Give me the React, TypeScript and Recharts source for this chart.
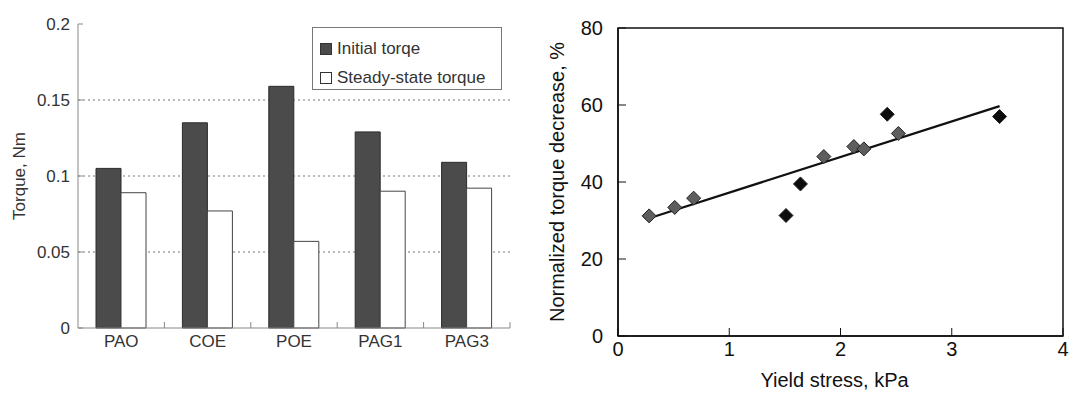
import {
  Bar,
  BarChart,
  CartesianGrid,
  Legend,
  ReferenceArea,
  Scatter,
  ScatterChart,
  XAxis,
  YAxis,
} from "recharts";

// left panel: torque per lubricant
const lubricants = ["PAO", "COE", "POE", "PAG1", "PAG3"];
const initialTorque = [0.105, 0.135, 0.159, 0.129, 0.109];
const steadyTorque = [0.089, 0.077, 0.057, 0.09, 0.092];
const torqueTicks = [0, 0.05, 0.1, 0.15, 0.2];
const torqueGrid = [0.05, 0.1, 0.15];

// right panel: normalized torque decrease vs yield stress
const stressGray = [0.28, 0.51, 0.68, 1.85, 2.12, 2.21, 2.52];
const decreaseGray = [31.2, 33.4, 35.8, 46.6, 49.2, 48.6, 52.6];
const stressBlack = [1.51, 1.64, 2.42, 3.43];
const decreaseBlack = [31.3, 39.5, 57.6, 57.0];
const fitStress = [0.28, 3.43];
const fitDecrease = [30.6, 59.7];
const stressTicks = [0, 1, 2, 3, 4];
const decreaseTicks = [0, 20, 40, 60, 80];

const barData = lubricants.map((name, i) => ({
  name,
  initial: initialTorque[i],
  steady: steadyTorque[i],
}));

const toPoints = (xs: number[], ys: number[]) =>
  xs.map((x, i) => ({ x, y: ys[i] }));

const grayPoints = toPoints(stressGray, decreaseGray);
const blackPoints = toPoints(stressBlack, decreaseBlack);
const fitPoints = toPoints(fitStress, fitDecrease);

const FONT = "'Liberation Sans', Arial, Helvetica, sans-serif";
const LEFT_FS = 17;

const LEFT_W = 540;
const LEFT_H = 401;
const LEFT_MARGIN = { top: 24, right: 30, bottom: 43, left: 0 };
const LEFT_YAXIS_W = 78;
const LEFT_PLOT_W = LEFT_W - LEFT_MARGIN.left - LEFT_MARGIN.right - LEFT_YAXIS_W;
const BAND = LEFT_PLOT_W / lubricants.length;

function CategoryTick(props: any) {
  const { x, y, payload, index } = props;
  const axisY = y - 7;
  return (
    <g>
      {index > 0 && (
        <line x1={x - BAND / 2} x2={x - BAND / 2} y1={axisY} y2={axisY - 6} stroke="#888" />
      )}
      {index === lubricants.length - 1 && (
        <line x1={x + BAND / 2} x2={x + BAND / 2} y1={axisY} y2={axisY - 6} stroke="#888" />
      )}
      <text x={x} y={y} dy="0.71em" textAnchor="middle" fill="#333" fontSize={LEFT_FS} fontFamily={FONT}>
        {payload.value}
      </text>
    </g>
  );
}

function TorqueLegend(props: any) {
  const { payload = [] } = props;
  return (
    <div
      style={{
        border: "1.5px solid #777",
        width: 190,
        height: 63,
        boxSizing: "border-box",
        padding: "6px 0 0 7px",
        fontFamily: FONT,
        fontSize: LEFT_FS,
        color: "#333",
        background: "#fff",
      }}
    >
      {payload.map((entry: any) => (
        <div key={entry.value} style={{ display: "flex", alignItems: "center", height: 29 }}>
          <span
            style={{
              display: "inline-block",
              width: 12,
              height: 12,
              boxSizing: "border-box",
              background: entry.color,
              border: "1px solid #333",
              marginRight: 5,
            }}
          />
          {entry.value}
        </div>
      ))}
    </div>
  );
}

function TorqueBars() {
  return (
    <BarChart width={LEFT_W} height={LEFT_H} data={barData} margin={LEFT_MARGIN} barGap={0}>
      <CartesianGrid
        vertical={false}
        horizontalValues={torqueGrid}
        strokeDasharray="2 3"
        stroke="#777"
      />
      <XAxis
        dataKey="name"
        height={30}
        tickLine={false}
        tickSize={0}
        tickMargin={7}
        axisLine={{ stroke: "#888" }}
        tick={<CategoryTick />}
        interval={0}
      />
      <YAxis
        type="number"
        domain={[0, 0.2]}
        ticks={torqueTicks}
        width={LEFT_YAXIS_W}
        axisLine={{ stroke: "#888" }}
        tickLine={{ stroke: "#888" }}
        tickSize={-5}
        tickMargin={13}
        tick={{ fill: "#333", fontSize: LEFT_FS, fontFamily: FONT }}
        label={{
          value: "Torque, Nm",
          angle: -90,
          position: "insideLeft",
          offset: 19,
          style: { textAnchor: "middle", fill: "#333", fontSize: LEFT_FS, fontFamily: FONT },
        }}
      />
      <Legend
        layout="vertical"
        align="center"
        verticalAlign="middle"
        content={<TorqueLegend />}
        wrapperStyle={{ left: 312, top: 27, width: 190, height: 63 }}
      />
      <Bar
        dataKey="initial"
        name="Initial torqe"
        fill="#4b4b4b"
        stroke="#2b2b2b"
        barSize={25}
        isAnimationActive={false}
      />
      <Bar
        dataKey="steady"
        name="Steady-state torque"
        fill="#ffffff"
        stroke="#444"
        barSize={25}
        isAnimationActive={false}
      />
    </BarChart>
  );
}

const diamond = (fill: string) => (props: any) => {
  const { cx, cy } = props;
  const r = 7;
  return (
    <polygon
      points={`${cx},${cy - r} ${cx + r},${cy} ${cx},${cy + r} ${cx - r},${cy}`}
      fill={fill}
      stroke="#222"
      strokeWidth={1}
    />
  );
};

function DecreaseScatter() {
  return (
    <ScatterChart width={533} height={401} margin={{ top: 28, right: 10, bottom: 6, left: 0 }}>
      <XAxis
        type="number"
        dataKey="x"
        domain={[0, 4]}
        ticks={stressTicks}
        height={59}
        axisLine={{ stroke: "#111", strokeWidth: 1.5 }}
        tickLine={{ stroke: "#111" }}
        tickSize={-8}
        tickMargin={14}
        tick={{ fill: "#111", fontSize: 20, fontFamily: FONT }}
        label={{
          value: "Yield stress, kPa",
          position: "insideBottom",
          offset: 8,
          dx: -6,
          style: { fill: "#111", fontSize: 20, fontFamily: FONT },
        }}
      />
      <YAxis
        type="number"
        dataKey="y"
        domain={[0, 80]}
        ticks={decreaseTicks}
        width={78}
        axisLine={{ stroke: "#111", strokeWidth: 1.5 }}
        tickLine={{ stroke: "#111" }}
        tickSize={-8}
        tickMargin={23}
        tick={{ fill: "#111", fontSize: 20, fontFamily: FONT }}
        label={{
          value: "Normalized torque decrease, %",
          angle: -90,
          position: "insideLeft",
          offset: 17,
          style: { textAnchor: "middle", fill: "#111", fontSize: 20, fontFamily: FONT },
        }}
      />
      <ReferenceArea
        x1={0}
        x2={4}
        y1={0}
        y2={80}
        fill="none"
        fillOpacity={0}
        stroke="#111"
        strokeWidth={1.5}
      />
      <Scatter
        data={fitPoints}
        line={{ stroke: "#111", strokeWidth: 2.2 }}
        shape={() => <g />}
        isAnimationActive={false}
      />
      <Scatter data={grayPoints} shape={diamond("#5e5e5e")} isAnimationActive={false} />
      <Scatter data={blackPoints} shape={diamond("#0d0d0d")} isAnimationActive={false} />
    </ScatterChart>
  );
}

export default function App() {
  return (
    <div
      style={{
        position: "absolute",
        left: 0,
        top: 0,
        width: 1073,
        height: 401,
        background: "#fff",
        display: "flex",
      }}
    >
      <TorqueBars />
      <DecreaseScatter />
    </div>
  );
}
